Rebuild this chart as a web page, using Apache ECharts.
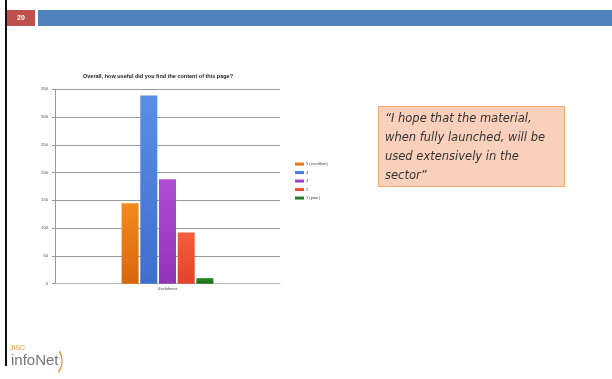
<!DOCTYPE html>
<html><head><meta charset="utf-8">
<script src="https://cdn.jsdelivr.net/npm/echarts@6/dist/echarts.min.js"></script>
<style>html,body{margin:0;padding:0;background:#fff}#c{width:612px;height:379px}</style>
</head><body><div id="c"></div>
<script>
var categories = ['Usefulness'];
var seriesNames = ['5 (excellent)', '4', '3', '2', '1 (poor)'];
var seriesValues = [145, 339, 188, 92, 10];
var yTicks = [0, 50, 100, 150, 200, 250, 300, 350];
var chartTitle = 'Overall, how useful did you find the content of this page?';
var slideNumber = '20';
var quoteLines = ['\u201CI hope that the material,', 'when fully launched, will be', 'used extensively in the', 'sector\u201D'];

var colors = [['#F28C1E','#D9650C'],['#5A8EE6','#3F6FCC'],['#AE4ED3','#9034B8'],['#F55E3E','#E0442A'],['#2A8A2A','#176B17']];
var chart = echarts.init(document.getElementById('c'), null, {renderer:'canvas'});
var series = seriesNames.map(function(n,i){
  return {name:n, type:'bar', data:[seriesValues[i]], barWidth:17, barGap:'10%',
    itemStyle:{color:new echarts.graphic.LinearGradient(0,0,0,1,[{offset:0,color:colors[i][0]},{offset:1,color:colors[i][1]}])}};
});
var quoteGraphics = quoteLines.map(function(t,i){
  return {type:'text', left:385, top:113.5+i*19, z:10, style:{text:t, font:'italic 11.5px "DejaVu Sans"', fill:'#333'}};
});
chart.setOption({
  animation:false,
  color: colors.map(function(c){return c[0];}),
  title:{text:chartTitle, left:158, top:73, padding:0, textAlign:'center',
    textStyle:{fontSize:5.5, fontWeight:'bold', color:'#222', fontFamily:'Liberation Sans'}},
  legend:{orient:'vertical', left:295, top:162, padding:0, itemWidth:9, itemHeight:3, itemGap:4.5, icon:'rect',
    textStyle:{fontSize:4, color:'#444', padding:[0,0,0,-3]}, data:seriesNames},
  grid:{left:55, right:332, top:89.3, bottom:95.3},
  xAxis:{type:'category', data:categories, axisTick:{show:false},
    axisLine:{lineStyle:{color:'#bbb'}}, axisLabel:{fontSize:4, color:'#444', margin:3}},
  yAxis:{type:'value', min:yTicks[0], max:yTicks[yTicks.length-1], interval:50,
    axisLine:{show:true, lineStyle:{color:'#999'}}, axisTick:{show:true, length:3, lineStyle:{color:'#999'}},
    splitLine:{lineStyle:{color:'#999', width:1}},
    axisLabel:{fontSize:4, color:'#444', margin:7}},
  series: series,
  graphic: [
    {type:'rect', shape:{x:5, y:0, width:2, height:366}, style:{fill:'#111'}},
    {type:'rect', shape:{x:7, y:10, width:28, height:16}, style:{fill:'#C0504D'}},
    {type:'text', x:21, y:18, style:{text:slideNumber, fill:'#fff', font:'bold 7px "Liberation Sans"', align:'center', verticalAlign:'middle'}},
    {type:'rect', shape:{x:38, y:10, width:574, height:16}, style:{fill:'#4F81BD'}},
    {type:'rect', shape:{x:378.5, y:106.5, width:186, height:80}, style:{fill:'#F9D0BC', stroke:'#F6A86E', lineWidth:1}},
    {type:'text', x:10, y:345, style:{text:'JISC', fill:'#E8963A', font:'7px "Liberation Sans"'}},
    {type:'text', x:11, y:353, style:{text:'infoNet', fill:'#777', font:'15px "Liberation Sans"'}},
    {type:'arc', shape:{cx:42, cy:361, r:20, startAngle:-0.5, endAngle:0.6}, style:{stroke:'#E8963A', lineWidth:1.5, fill:null}}
  ].concat(quoteGraphics)
});
</script></body></html>
